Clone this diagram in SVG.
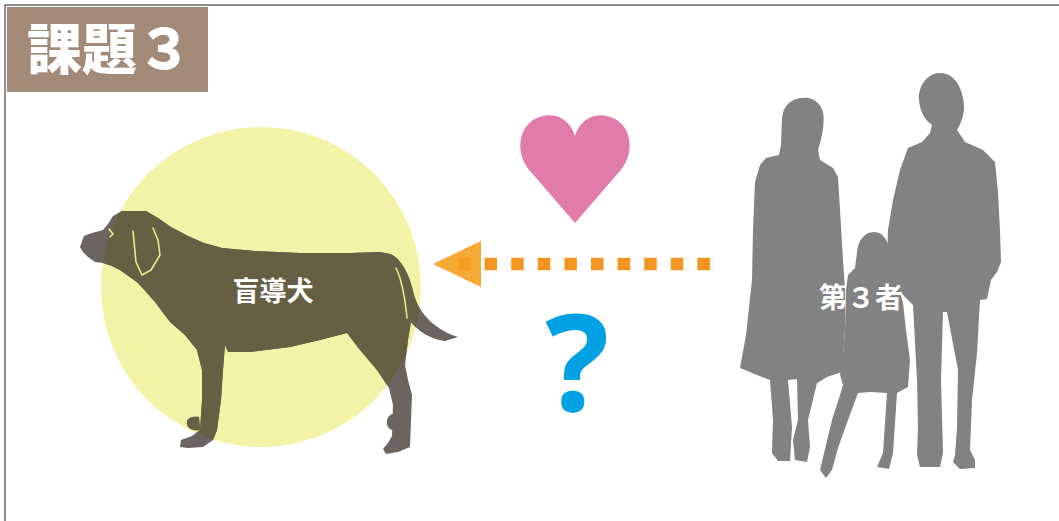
<svg xmlns="http://www.w3.org/2000/svg" width="1059" height="521" viewBox="0 0 1059 521">
  <style>
    .frame { fill: none; stroke: #8e8e8e; stroke-width: 2; }
    .title { font-family: "Noto Sans CJK JP", "Noto Sans", sans-serif; font-weight: 900; fill: #ffffff; }
    .label { font-family: "Noto Sans CJK JP", "Noto Sans", sans-serif; font-weight: 700; fill: #ffffff; text-anchor: middle; }
    .person { fill: #828282; }
    .trace { fill: none; stroke: #ece88e; stroke-width: 1.6; stroke-linecap: round; stroke-linejoin: round; }
  </style>
  <defs>
    <clipPath id="spot">
      <circle cx="261" cy="287" r="160"/>
    </clipPath>
    <path id="dogShape" d="M80,247 L84,236 L92,233 L103,230 L108,224 L113,216 L122,211 L146,211 L158,218 L171,227 L188,236 L204,243 L222,248 L255,251 L300,253 L350,253 L380,252 L390,254 C401,258 410,275 414,295 C420,316 438,331 458,337 L445,341 C430,339 418,331 411,322 L408,340 L405,365 L408,380 L412,395 L411,420 L410,447 L398,452 L386,454 L383,449 L388,443 L392,436 L393,405 L389,388 L377,370 L360,350 L347,333 L320,340 L290,347 L250,352 L228,352 L225,345 L223,370 L221,400 L217,430 L213,440 L203,447 L188,448 L180,447 L181,440 L192,436 L200,430 L202,400 L202,370 L197,350 L185,335 L170,322 L155,302 L138,283 L120,270 L112,266 L103,263 L95,262 L88,257 L83,252 Z M187,424 C186,418 192,416 199,417 L200,430 C193,431 188,429 187,424 Z M387,424 C386,417 391,413 397,413 L398,430 C391,431 388,429 387,424 Z"/>
  </defs>

  <rect width="1059" height="521" fill="#ffffff"/>
  <path class="frame" d="M5,521 L5,5 L1059,5"/>

  <!-- title tab -->
  <g id="title">
    <rect x="7" y="7" width="201" height="85" fill="#a38a78"/>
    <text class="title" x="27" y="69" font-size="55">課題３</text>
  </g>

  <!-- guide dog on a yellow spot -->
  <g id="guide-dog">
    <circle cx="261" cy="287" r="160" fill="#f4f2a6"/>
    <use href="#dogShape" fill="#6b6461"/>
    <use href="#dogShape" fill="#675f43" clip-path="url(#spot)"/>
    <path class="trace" d="M133,231 L136,262 L142,275 L151,270 L160,255 L158,240 L153,228"/>
    <path class="trace" d="M109,229 L113,234 L110,237"/>
    <path class="trace" d="M396,268 C402,280 405,298 407,318"/>
    <text class="label" x="273" y="301" font-size="27">盲導犬</text>
  </g>

  <!-- heart and question mark -->
  <g id="heart">
    <path d="M575,223 L531,172 C516,156 517,131 533,120 C550,110 569,116 575,136 C581,116 600,110 617,120 C633,131 634,156 619,172 Z" fill="#e07bab"/>
  </g>
  <g id="question">
    <text x="577" y="411" font-size="134" font-family="Noto Sans, sans-serif" font-weight="700" fill="#03a1e3" text-anchor="middle">?</text>
  </g>

  <!-- connector: dotted arrow from the people to the dog -->
  <g id="connectors">
    <line x1="458" y1="264" x2="710" y2="264" stroke="#f39422" stroke-width="12.5" stroke-dasharray="12.5 14.1"/>
    <path d="M433,264 L481,241 L481,287 Z" fill="#f5a01f" fill-opacity="0.9"/>
  </g>

  <!-- third parties: family silhouettes -->
  <g id="third-party">
    <path class="person" d="M803,98 C791,98 783,106 782,118 L781,145 L779,155 L766,158 L760,165 L755,182 L753,230 L752,280 L746,335 L740,368 L757,375 L770,380 L773,420 L772,453 L778,461 L790,461 L792,427 L788,380 L797,379 L798,420 L793,440 L795,460 L807,462 L810,447 L808,420 L817,383 L827,377 L842,372 L845,330 L845,290 L843,260 L840,210 L838,177 L833,168 L820,160 L818,150 C822,138 825,122 823,112 C820,102 812,97 803,98 Z"/>
    <path class="person" d="M874,232 C864,232 858,241 857,252 L855,268 L848,275 L846,290 L845,330 L843,355 L840,375 L843,385 L840,395 L832,420 L826,445 L820,470 L826,478 L832,470 L838,448 L848,420 L858,393 L870,392 L887,393 L883,453 L877,467 L889,469 L893,453 L897,393 L908,387 L910,360 L906,330 L903,303 L897,280 L891,268 L890,254 C889,241 883,232 874,232 Z"/>
    <path class="person" d="M940,73 C928,73 918,85 919,100 C920,112 925,120 932,125 L930,133 L922,142 L908,148 L900,170 L893,200 L888,230 L887,262 L890,280 L905,297 L913,305 L917,380 L918,427 L917,455 L920,467 L940,467 L943,453 L941,380 L943,312 L947,312 L958,370 L957,427 L955,455 L953,462 L960,469 L975,468 L975,460 L970,450 L972,400 L977,353 L980,300 L987,299 L991,280 L997,272 L1001,262 L1000,230 L998,193 L995,162 L983,150 L965,142 L957,130 C962,122 966,110 963,98 C960,83 952,73 940,73 Z"/>
    <text class="label" x="861" y="308" font-size="28">第３者</text>
  </g>
</svg>
